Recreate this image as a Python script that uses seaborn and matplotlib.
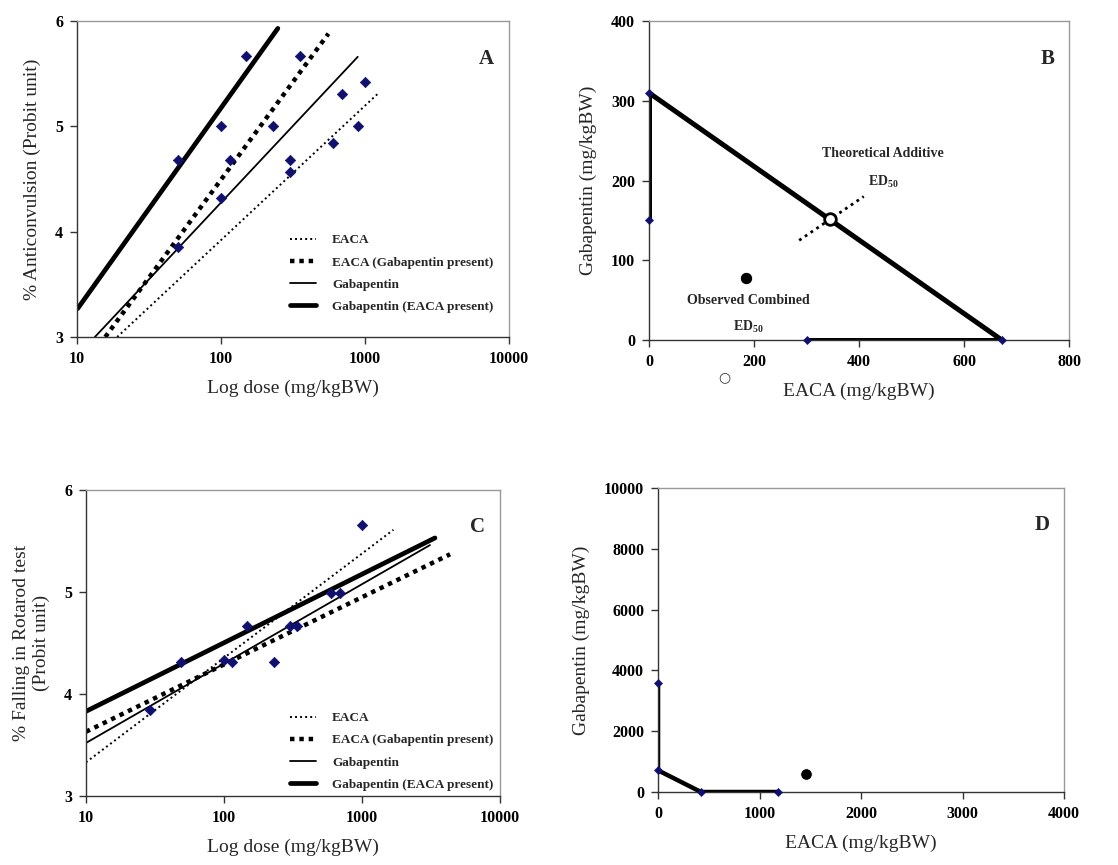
import matplotlib
matplotlib.use("Agg")
import matplotlib.pyplot as plt
import seaborn as sns
import numpy as np
import pandas as pd

# ---------------- data ----------------
series_names = ["EACA", "EACA (Gabapentin present)", "Gabapentin", "Gabapentin (EACA present)"]

# Panel A: regression line end points (dose, probit)
a_line_dose = [[19, 1250], [15.7, 557], [13.3, 890], [10.1, 248]]
a_line_probit = [[3.0, 5.32], [3.0, 5.88], [3.0, 5.66], [3.27, 5.93]]
# Panel A: observed points
a_pts_dose = [50, 50, 100, 100, 115, 149, 229, 299, 300, 351, 604, 694, 895, 1000]
a_pts_probit = [4.68, 3.85, 5.0, 4.32, 4.68, 5.67, 5.0, 4.68, 4.57, 5.67, 4.84, 5.31, 5.0, 5.42]

# Panel C: regression line end points
c_line_dose = [[10, 1690], [10, 4350], [10, 3110], [10, 3380]]
c_line_probit = [[3.33, 5.61], [3.63, 5.37], [3.52, 5.46], [3.83, 5.53]]
# Panel C: observed points
c_pts_dose = [29, 49, 100, 114, 148, 230, 300, 340, 596, 692, 996]
c_pts_probit = [3.84, 4.31, 4.33, 4.31, 4.67, 4.31, 4.67, 4.67, 4.99, 4.99, 5.66]

# Panel B: isobologram (EACA, Gabapentin)
b_additive_x = [0, 672]
b_additive_y = [310, 0]
b_gab_x = [0, 0]
b_gab_y = [150, 310]
b_eaca_x = [300, 672]
b_eaca_y = [0, 0]
b_pts_x = [0, 0, 300, 672]
b_pts_y = [310, 150, 0, 0]
b_theor = (345, 152)
b_theor_ci_x = [286, 409]
b_theor_ci_y = [125, 180]
b_observed = (184, 78)

# Panel D: isobologram
d_line_x = [0, 0, 423, 1178]
d_line_y = [3600, 713, 0, 0]
d_pts_x = [0, 0, 423, 1178]
d_pts_y = [3600, 713, 0, 0]
d_observed = (1460, 603)

# ---------------- style ----------------
sns.set_theme(style="white")
plt.rcParams["font.family"] = ["Liberation Serif", "DejaVu Serif"]
plt.rcParams["mathtext.fontset"] = "custom"
plt.rcParams["mathtext.rm"] = "Liberation Serif"
plt.rcParams["mathtext.bf"] = "Liberation Serif:bold"
plt.rcParams["xtick.bottom"] = True
plt.rcParams["ytick.left"] = True
plt.rcParams["xtick.major.size"] = 5
plt.rcParams["ytick.major.size"] = 5
plt.rcParams["xtick.major.width"] = 1
plt.rcParams["ytick.major.width"] = 1

NAVY = "#10106e"
line_styles = [
    dict(lw=1.4, ls=(0, (1, 1.6))),
    dict(lw=3.2, ls=(0, (1, 1.1))),
    dict(lw=1.3, ls="-"),
    dict(lw=3.4, ls="-"),
]

fig = plt.figure(figsize=(11.18, 8.65), dpi=100)
axA = fig.add_axes([0.0689, 0.6104, 0.3864, 0.3653])
axB = fig.add_axes([0.5805, 0.6069, 0.3757, 0.3688])
axC = fig.add_axes([0.0769, 0.0798, 0.3703, 0.3537])
axD = fig.add_axes([0.5886, 0.0844, 0.3631, 0.3514])


def style_axes(ax):
    for side in ["left", "bottom"]:
        ax.spines[side].set_color("#333333")
        ax.spines[side].set_linewidth(1.0)
    for side in ["top", "right"]:
        ax.spines[side].set_color("#999999")
        ax.spines[side].set_linewidth(1.0)
    ax.tick_params(which="major", direction="out", length=5, width=1, color="#333333",
                   labelcolor="black", labelsize=11.5, bottom=True, left=True, pad=5)
    for lab in ax.get_xticklabels() + ax.get_yticklabels():
        lab.set_fontweight("bold")


def dose_panel(ax, ldose, lprob, pdose, pprob, letter, ylabel, legend_loc):
    for name, xs, ys, st in zip(series_names, ldose, lprob, line_styles):
        df = pd.DataFrame({"x": xs, "y": ys})
        sns.lineplot(data=df, x="x", y="y", ax=ax, color="black", lw=st["lw"],
                     linestyle=st["ls"], label=name, sort=False, estimator=None)
    sns.scatterplot(x=pdose, y=pprob, ax=ax, marker="D", s=28, color=NAVY,
                    edgecolor=NAVY, linewidth=0.5, zorder=5)
    ax.set_xscale("log")
    ax.set_xlim(10, 10000)
    ax.set_ylim(3, 6)
    ax.set_xticks([10, 100, 1000, 10000])
    ax.set_xticklabels(["10", "100", "1000", "10000"])
    ax.xaxis.set_minor_locator(matplotlib.ticker.NullLocator())
    ax.set_yticks([3, 4, 5, 6])
    ax.set_xlabel("Log dose (mg/kgBW)", fontsize=14, labelpad=9)
    ax.set_ylabel(ylabel, fontsize=14, labelpad=10)
    ax.text(0.965, 0.88, letter, transform=ax.transAxes, fontsize=15,
            fontweight="bold", ha="right", va="center")
    ax.legend(loc=legend_loc, frameon=False, prop={"weight": "bold", "size": 9.5},
              handlelength=2.0, handletextpad=1.2, labelspacing=0.75,
              borderaxespad=0.3)
    style_axes(ax)


dose_panel(axA, a_line_dose, a_line_probit, a_pts_dose, a_pts_probit, "A",
           "% Anticonvulsion (Probit unit)", (0.48, 0.06))
dose_panel(axC, c_line_dose, c_line_probit, c_pts_dose, c_pts_probit, "C",
           "% Falling in Rotarod test\n(Probit unit)", (0.48, 0.0))

# Panel B
sns.lineplot(x=b_additive_x, y=b_additive_y, ax=axB, color="black", lw=3.6, sort=False, estimator=None)
sns.lineplot(x=b_gab_x, y=b_gab_y, ax=axB, color="black", lw=3.6, sort=False, estimator=None)
sns.lineplot(x=b_eaca_x, y=b_eaca_y, ax=axB, color="black", lw=3.6, sort=False, estimator=None)
sns.lineplot(x=b_theor_ci_x, y=b_theor_ci_y, ax=axB, color="black", lw=2,
             linestyle=(0, (1, 1.5)), sort=False, estimator=None)
sns.scatterplot(x=b_pts_x, y=b_pts_y, ax=axB, marker="D", s=18, color=NAVY,
                edgecolor=NAVY, zorder=5, clip_on=False)
sns.scatterplot(x=[b_theor[0]], y=[b_theor[1]], ax=axB, marker="o", s=70,
                facecolor="white", edgecolor="black", linewidth=2, zorder=6)
sns.scatterplot(x=[b_observed[0]], y=[b_observed[1]], ax=axB, marker="o", s=80,
                color="black", zorder=6)
axB.set_xlim(0, 800)
axB.set_ylim(0, 400)
axB.set_xticks([0, 200, 400, 600, 800])
axB.set_yticks([0, 100, 200, 300, 400])
axB.set_xlabel("EACA (mg/kgBW)", fontsize=14, labelpad=9)
axB.set_ylabel("Gabapentin (mg/kgBW)", fontsize=14, labelpad=10)
axB.text(0.965, 0.88, "B", transform=axB.transAxes, fontsize=15,
         fontweight="bold", ha="right", va="center")
axB.text(446, 234, "Theoretical Additive", fontsize=10, fontweight="bold", ha="center", va="center")
axB.text(446, 199, r"ED$_\mathbf{50}$", fontsize=10, fontweight="bold", ha="center", va="center")
axB.text(189, 49, "Observed Combined", fontsize=10, fontweight="bold", ha="center", va="center")
axB.text(189, 16, r"ED$_\mathbf{50}$", fontsize=10, fontweight="bold", ha="center", va="center")
axB.text(0.18, -0.118, "○", transform=axB.transAxes, fontsize=10, ha="center", va="center",
         color="#333333", family=["DejaVu Sans"])
style_axes(axB)

# Panel D
sns.lineplot(x=d_line_x, y=d_line_y, ax=axD, color="black", lw=3.2, sort=False, estimator=None)
sns.scatterplot(x=d_pts_x, y=d_pts_y, ax=axD, marker="D", s=18, color=NAVY,
                edgecolor=NAVY, zorder=5, clip_on=False)
sns.scatterplot(x=[d_observed[0]], y=[d_observed[1]], ax=axD, marker="o", s=70,
                color="black", zorder=6)
axD.set_xlim(0, 4000)
axD.set_ylim(0, 10000)
axD.set_xticks([0, 1000, 2000, 3000, 4000])
axD.set_yticks([0, 2000, 4000, 6000, 8000, 10000])
axD.set_xlabel("EACA (mg/kgBW)", fontsize=14, labelpad=9)
axD.set_ylabel("Gabapentin (mg/kgBW)", fontsize=14, labelpad=10)
axD.text(0.965, 0.88, "D", transform=axD.transAxes, fontsize=15,
         fontweight="bold", ha="right", va="center")
style_axes(axD)

fig.savefig("out.png", dpi=100)
